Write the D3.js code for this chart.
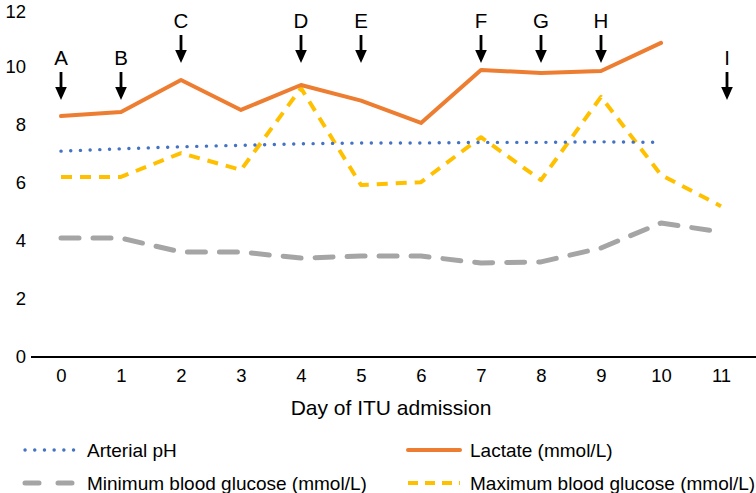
<!DOCTYPE html>
<html><head><meta charset="utf-8">
<script src="https://cdn.jsdelivr.net/npm/d3@7"></script>
<style>body{margin:0;background:#fff}svg{display:block;font-family:"Liberation Sans",Arial,sans-serif}</style>
</head><body><svg id="c" width="756" height="493"></svg>
<script>
const days = [0,1,2,3,4,5,6,7,8,9,10,11];
const yTicks = [0,2,4,6,8,10,12];
const arterialPH = [7.10,7.18,7.25,7.30,7.35,7.38,7.38,7.40,7.40,7.42,7.40,null];
const lactate = [8.31,8.45,9.55,8.52,9.38,8.84,8.07,9.90,9.79,9.86,10.83,null];
const minGlucose = [4.10,4.10,3.62,3.62,3.41,3.48,3.48,3.24,3.28,3.76,4.62,4.31];
const maxGlucose = [6.21,6.21,7.03,6.45,9.27,5.93,6.03,7.58,6.10,8.97,6.28,5.20];
const eventLabels = ["A","B","C","D","E","F","G","H","I"];
const eventDays = [0,1,2,4,5,7,8,9,11.1];
const eventLevel = ["low","low","high","high","high","high","high","high","low"];
const seriesNames = ["Arterial pH","Lactate (mmol/L)","Minimum blood glucose (mmol/L)","Maximum blood glucose (mmol/L)"];

const svg = d3.select("#c");
const x = d3.scaleLinear().domain([0,11]).range([61,721]);
const y = d3.scaleLinear().domain([0,12]).range([357,9]);

const styles = [
  {data:arterialPH,color:"#4472C4",w:3.4,dash:"0.1 9.6",cap:"round"},
  {data:lactate,color:"#ED7D31",w:4,dash:null,cap:"round"},
  {data:minGlucose,color:"#A5A5A5",w:5,dash:"18 14",cap:"round"},
  {data:maxGlucose,color:"#FFC000",w:4,dash:"11 8",cap:"butt"}
];

// x axis
const xAxis = svg.append("g").attr("transform","translate(0,357)")
  .call(d3.axisBottom(x).tickValues(days).tickSize(0).tickPadding(12));
xAxis.select(".domain").remove();
xAxis.append("line").attr("x1",31).attr("x2",756).attr("stroke","#000").attr("stroke-width",2);
xAxis.selectAll("text").attr("font-size",18.5).attr("fill","#000").attr("font-family","Liberation Sans,Arial,sans-serif");

// y axis labels
const yAxis = svg.append("g").attr("transform","translate(26,0)")
  .call(d3.axisLeft(y).tickValues(yTicks).tickSize(0).tickPadding(0));
yAxis.select(".domain").remove();
yAxis.selectAll("text").attr("font-size",18.5).attr("fill","#000").attr("font-family","Liberation Sans,Arial,sans-serif")
  .attr("dy", d => d === 12 ? "0.45em" : "0.32em");

// lines
const line = d3.line().defined(d=>d.v!=null).x(d=>x(d.d)).y(d=>y(d.v));
[2,3,1,0].forEach(i=>{
  const s = styles[i];
  svg.append("path").datum(s.data.map((v,k)=>({d:days[k],v})))
    .attr("d",line).attr("fill","none").attr("stroke",s.color)
    .attr("stroke-width",s.w).attr("stroke-dasharray",s.dash)
    .attr("stroke-linecap",s.cap).attr("stroke-linejoin","round");
});

// event arrows
const ev = svg.append("g");
eventLabels.forEach((lab,i)=>{
  const cx = x(eventDays[i]);
  const off = eventLevel[i]==="high" ? 0 : 37;
  ev.append("text").attr("x",cx).attr("y",28+off).attr("text-anchor","middle")
    .attr("font-size",20.5).text(lab);
  ev.append("line").attr("x1",cx).attr("x2",cx).attr("y1",35+off).attr("y2",52+off)
    .attr("stroke","#000").attr("stroke-width",2.8);
  ev.append("path").attr("d",`M${cx-5.8},${50+off} L${cx+5.8},${50+off} L${cx},${63+off} Z`).attr("fill","#000");
});

// axis title
svg.append("text").attr("x",391).attr("y",415).attr("text-anchor","middle")
  .attr("font-size",21).text("Day of ITU admission");

// legend
const legPos = [[25,450],[408,450],[25,483],[408,483]];
styles.forEach((s,i)=>{
  const [lx,ly] = legPos[i];
  svg.append("line").attr("x1",lx).attr("x2",lx+(i===2?50:52)).attr("y1",ly).attr("y2",ly)
    .attr("stroke",s.color).attr("stroke-width",s.w).attr("stroke-dasharray",i===2?"14 19":(i===3?"10 7":s.dash))
    .attr("stroke-linecap",s.cap);
  svg.append("text").attr("x",lx+62).attr("y",ly+7).attr("font-size",19).text(seriesNames[i]);
});
</script></body></html>
